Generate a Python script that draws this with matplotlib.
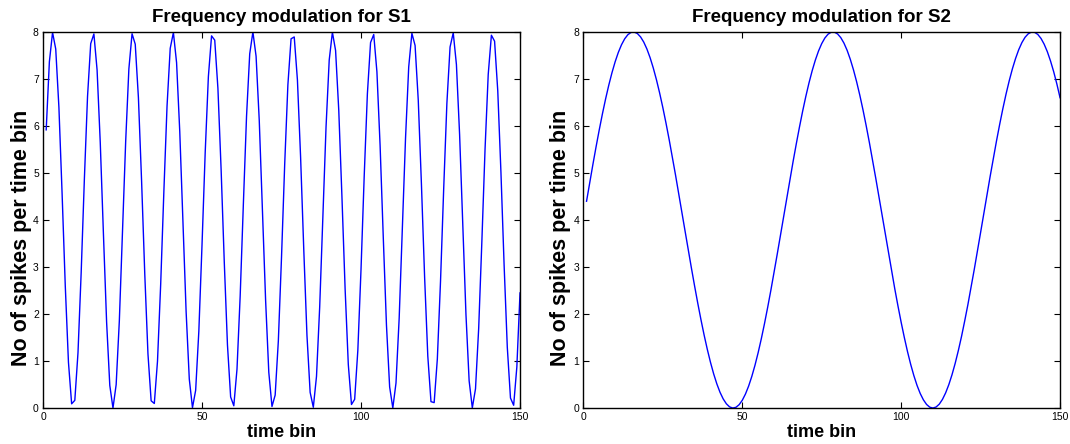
import matplotlib
matplotlib.use("Agg")
import matplotlib.pyplot as plt

plt.rcParams['font.family'] = ['Liberation Sans', 'DejaVu Sans']

# Time bins and spike counts per bin for the two stimuli
time_bins = list(range(1, 151))

s1_counts = [
    5.918, 7.366, 7.990, 7.637, 6.394, 4.564, 2.597, 0.973, 0.090, 0.164,
    1.178, 2.882, 4.860, 6.628, 7.752, 7.958, 7.194, 5.648, 3.699, 1.824,
    0.481, 0.000, 0.498, 1.854, 3.735, 5.681, 7.215, 7.962, 7.740, 6.601,
    4.826, 2.848, 1.153, 0.154, 0.097, 0.996, 2.630, 4.600, 6.422, 7.652,
    7.988, 7.347, 5.882, 3.965, 2.051, 0.615, 0.008, 0.377, 1.634, 3.470,
    5.436, 7.050, 7.917, 7.826, 6.800, 5.084, 3.105, 1.345, 0.236, 0.048,
    0.828, 2.384, 4.336, 6.206, 7.535, 8.000, 7.484, 6.116, 4.230, 2.287,
    0.760, 0.033, 0.275, 1.426, 3.209, 5.186, 6.872, 7.855, 7.894, 6.981,
    5.337, 3.366, 1.548, 0.334, 0.016, 0.673, 2.145, 4.071, 5.979, 7.404,
    7.994, 7.607, 6.337, 4.494, 2.531, 0.927, 0.075, 0.185, 1.228, 2.950,
    4.930, 6.681, 7.775, 7.946, 7.151, 5.584, 3.628, 1.765, 0.449, 0.001,
    0.533, 1.914, 3.805, 5.745, 7.257, 7.971, 7.713, 6.548, 4.756, 2.781,
    1.104, 0.136, 0.115, 1.043, 2.697, 4.670, 6.479, 7.680, 7.982, 7.307,
    5.819, 3.894, 1.990, 0.578, 0.004, 0.408, 1.694, 3.541, 5.502, 7.096,
    7.931, 7.804, 6.749, 5.015, 3.036, 1.293, 0.213, 0.059, 0.873, 2.449,
]

s2_counts = [
    4.399, 4.795, 5.182, 5.558, 5.918, 6.259, 6.577, 6.869, 7.133, 7.366,
    7.565, 7.728, 7.854, 7.942, 7.990, 7.998, 7.967, 7.895, 7.785, 7.637,
    7.453, 7.234, 6.983, 6.702, 6.394, 6.062, 5.710, 5.340, 4.957, 4.564,
    4.166, 3.766, 3.369, 2.978, 2.597, 2.230, 1.881, 1.552, 1.249, 0.973,
    0.727, 0.514, 0.335, 0.194, 0.090, 0.025, 0.000, 0.015, 0.070, 0.164,
    0.297, 0.466, 0.671, 0.909, 1.178, 1.475, 1.797, 2.142, 2.504, 2.882,
    3.271, 3.668, 4.067, 4.466, 4.860, 5.246, 5.619, 5.976, 6.314, 6.628,
    6.916, 7.175, 7.402, 7.595, 7.752, 7.872, 7.953, 7.994, 7.996, 7.958,
    7.880, 7.763, 7.609, 7.418, 7.194, 6.938, 6.652, 6.340, 6.004, 5.648,
    5.276, 4.892, 4.498, 4.099, 3.699, 3.303, 2.913, 2.534, 2.170, 1.824,
    1.500, 1.200, 0.929, 0.689, 0.481, 0.309, 0.174, 0.076, 0.018, 0.000,
    0.022, 0.083, 0.184, 0.323, 0.498, 0.708, 0.951, 1.224, 1.524, 1.854,
    2.200, 2.567, 2.947, 3.338, 3.735, 4.134, 4.533, 4.926, 5.310, 5.681,
    6.034, 6.368, 6.678, 6.961, 7.215, 7.436, 7.624, 7.775, 7.888, 7.962,
    7.997, 7.992, 7.948, 7.863, 7.740, 7.580, 7.383, 7.154, 6.892, 6.601,
]

titles = ["Frequency modulation for S1", "Frequency modulation for S2"]
x_label = "time bin"
y_label = "No of spikes per time bin"
x_ticks = [0, 50, 100, 150]
y_ticks = [0, 1, 2, 3, 4, 5, 6, 7, 8]

fig = plt.figure(figsize=(10.70, 4.44), dpi=100)
ax1 = fig.add_axes([0.0402, 0.081, 0.4458, 0.847])
ax2 = fig.add_axes([0.5452, 0.081, 0.4455, 0.847])

for ax, series, title, ylab_x in zip([ax1, ax2], [s1_counts, s2_counts],
                                     titles, [-0.023, -0.025]):
    ax.plot(time_bins, series, color=(0, 0, 1), linewidth=1.0)
    ax.set_xlim(0, 150)
    ax.set_ylim(0, 8)
    ax.set_xticks(x_ticks)
    ax.set_yticks(y_ticks)
    ax.tick_params(direction='in', top=True, right=True, length=4,
                   width=0.8, labelsize=7.5, pad=3, colors='black')
    for sp in ax.spines.values():
        sp.set_linewidth(1.0)
    ax.set_title(title, fontsize=13.5, fontweight='bold', pad=7)
    ax.set_xlabel(x_label, fontsize=13, fontweight='bold', labelpad=1)
    ax.set_ylabel(y_label, fontsize=15.5, fontweight='bold')
    ax.yaxis.set_label_coords(ylab_x, 0.452)

fig.savefig("out.png", dpi=100)
